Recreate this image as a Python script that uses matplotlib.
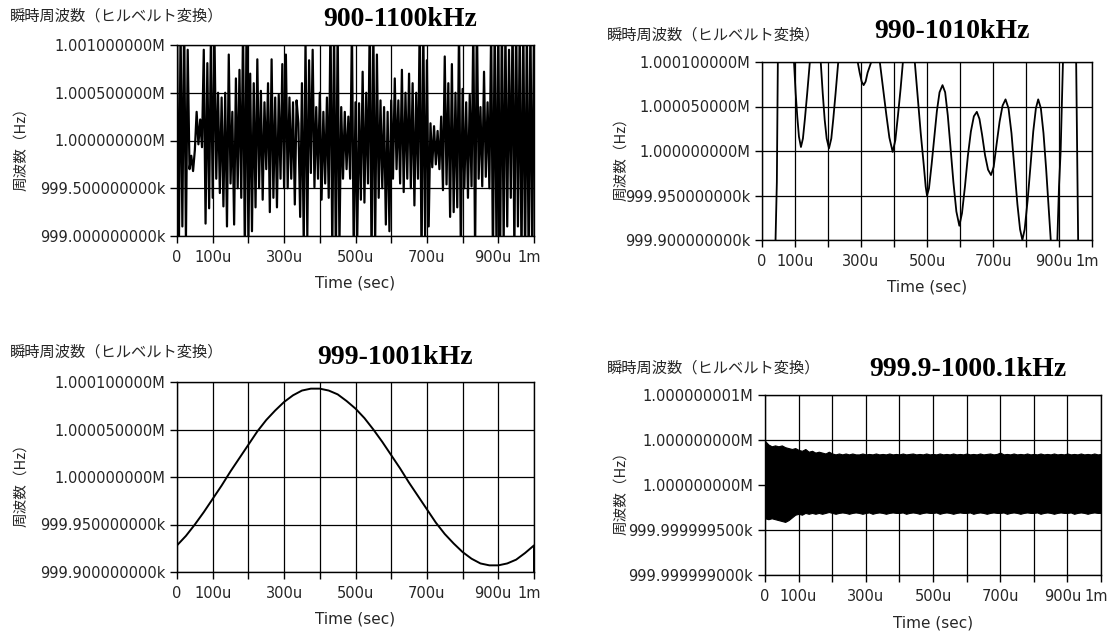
import numpy as np
import matplotlib
matplotlib.use("Agg")
import matplotlib.pyplot as plt
import matplotlib.transforms as mtransforms

plt.rcParams['font.family'] = ['DejaVu Sans', 'Noto Sans CJK JP']

# ----- DATA -----
# time in microseconds, frequency given as offset from 1 MHz
# panel 1 (900-1100kHz), offset in Hz, one sample every 5 us
t1 = np.arange(0, 1001, 5)
f1 = [
    1300, -1300, 1200, -900, 1300,
    -1050, 950, -300, -160, -320,
    -100, 300, -40, 220, -70,
    950, -870, 810, -710, 1100,
    -600, 1100, -400, 500, -550,
    450, -690, 500, -900, 900,
    -450, 300, -880, 650, -500,
    740, -600, 1200, -1200, 1300,
    -1100, 700, -950, 600, -700,
    850, -500, 520, -620, 400,
    -300, 600, -750, 850, -600,
    450, -700, 480, -400, 800,
    -500, 900, -500, 450, -400,
    400, -670, 420, 180, -800,
    600, -1100, 1050, -1000, 840,
    -340, 950, -490, 350, -400,
    500, -620, 300, -450, 450,
    -600, 1300, -1200, 1200, -1300,
    1200, -1100, 350, -400, 300,
    -300, 250, -400, 1200, -1200,
    400, -1000, 390, -620, 720,
    -650, 500, -450, 1300, -1300,
    1200, -1100, 900, -600, 420,
    -500, 350, -880, 300, -950,
    420, -400, 650, -300, 420,
    -450, 740, -540, 500, -400,
    700, -500, 600, -680, 500,
    -400, 1300, -1300, 1200, -1000,
    840, -900, 180, -280, 150,
    -250, 100, -300, 250, -520,
    880, -460, 600, -800, 800,
    -750, 500, -700, 1200, -1200,
    540, -500, 400, -600, 480,
    -480, 1200, -1200, 1300, -400,
    350, -480, 720, -380, 400,
    -500, 1200, -1300, 1300, -1200,
    1200, -1300, 1300, -1100, 1200,
    -900, 950, -600, 1300, -1200,
    1300, -900, 1200, -1300, 1300,
    -1300, 1200, -1300, 1300, -1300,
    1300,
]

# panel 2 (990-1010kHz), offset in Hz
t2 = [0, 20, 41, 45, 48, 72, 97, 102, 107, 112, 118, 124, 130, 137, 145, 161,
      178, 184, 190, 196, 203, 210, 216, 223, 231, 260, 290, 296, 302, 308, 314,
      320, 331, 344, 357, 367, 377, 386, 396, 404, 412, 420, 427, 445, 463, 472,
      481, 490, 496, 500, 506, 514, 522, 530, 538, 547, 555, 563, 571, 580, 589,
      598, 606, 615, 624, 633, 642, 651, 659, 667, 676, 685, 694, 702, 711, 720,
      729, 738, 747, 756, 765, 774, 782, 789, 796, 805, 814, 822, 830, 837, 845,
      853, 861, 868, 875, 885, 895, 900, 905, 912, 932, 952, 955, 958, 980, 1000]
f2 = [-200, -250, -100, -35, 100, 220, 100, 65, 38, 16, 4.5, 14, 36, 65, 100, 150,
      100, 65, 35, 14, 3, 14, 36, 65, 100, 200, 100, 88, 78, 74, 78,
      88, 100, 120, 100, 70, 40, 15, -1, 12, 40, 70, 100, 140, 100, 60,
      20, -15, -40, -50, -42, -15, 15, 45, 66, 74, 66, 40, 5, -35, -68,
      -84, -70, -40, -5, 22, 39, 44, 36, 18, -5, -21, -27, -18, 8, 33,
      51, 58, 48, 20, -20, -60, -88, -100, -88, -55, -15, 22, 48, 58, 48,
      20, -20, -60, -100, -140, -100, -40, 0, 100, 200, 100, 0, -100, -220, -250]

# panel 3 (999-1001kHz), offset in Hz
t3 = [0, 25, 50, 75, 100, 125, 150, 175, 200, 225, 250, 275, 300, 325, 350, 375,
      400, 425, 450, 475, 500, 525, 550, 575, 600, 625, 650, 675, 700, 725, 750,
      775, 800, 825, 850, 875, 900, 925, 950, 975, 1000, 1000]
f3 = [-72, -62, -50, -37, -23, -9, 6, 20, 34, 48, 60, 70, 79, 86, 91, 93,
      93, 91, 87, 80, 72, 62, 50, 37, 23, 9, -6, -20, -34, -48, -60,
      -70, -79, -86, -91, -93, -93, -91, -87, -80, -72, -100]

# panel 4 (999.9-1000.1kHz), envelope of the dense band, offset in mHz
t4 = np.arange(0, 1001, 10)
f4_upper = [
    0.49, 0.45, 0.43, 0.44, 0.43, 0.44, 0.42, 0.41, 0.40, 0.41,
    0.39, 0.38, 0.40, 0.37, 0.38, 0.36, 0.37, 0.36, 0.35, 0.37,
    0.35, 0.34, 0.35, 0.34, 0.35, 0.34, 0.35, 0.34, 0.34, 0.35,
    0.34, 0.345, 0.34, 0.35, 0.34, 0.345, 0.34, 0.35, 0.34, 0.345,
    0.34, 0.35, 0.34, 0.345, 0.35, 0.34, 0.345, 0.34, 0.35, 0.34,
    0.345, 0.34, 0.35, 0.34, 0.345, 0.34, 0.35, 0.34, 0.345, 0.34,
    0.35, 0.34, 0.345, 0.34, 0.35, 0.34, 0.345, 0.35, 0.34, 0.345,
    0.36, 0.34, 0.345, 0.34, 0.35, 0.34, 0.345, 0.34, 0.35, 0.34,
    0.345, 0.34, 0.35, 0.34, 0.345, 0.34, 0.35, 0.34, 0.345, 0.34,
    0.35, 0.34, 0.345, 0.34, 0.35, 0.34, 0.345, 0.34, 0.35, 0.34,
    0.345,
]
f4_lower = [
    -0.37, -0.38, -0.37, -0.38, -0.39, -0.40, -0.41, -0.39, -0.36, -0.33,
    -0.32, -0.33, -0.31, -0.32, -0.31, -0.32, -0.31, -0.32, -0.31, -0.30,
    -0.31, -0.32, -0.31, -0.305, -0.31, -0.32, -0.31, -0.305, -0.31, -0.32,
    -0.31, -0.305, -0.32, -0.31, -0.305, -0.31, -0.32, -0.31, -0.305, -0.31,
    -0.31, -0.305, -0.32, -0.31, -0.305, -0.31, -0.32, -0.31, -0.305, -0.31,
    -0.31, -0.305, -0.32, -0.31, -0.305, -0.31, -0.32, -0.31, -0.305, -0.31,
    -0.31, -0.305, -0.32, -0.31, -0.305, -0.31, -0.32, -0.31, -0.305, -0.31,
    -0.31, -0.305, -0.32, -0.31, -0.305, -0.31, -0.32, -0.31, -0.305, -0.31,
    -0.31, -0.305, -0.32, -0.31, -0.305, -0.31, -0.32, -0.31, -0.305, -0.31,
    -0.31, -0.305, -0.32, -0.31, -0.305, -0.31, -0.32, -0.31, -0.305, -0.31,
    -0.31,
]

# ticks and labels
x_ticks = [0, 100, 200, 300, 400, 500, 600, 700, 800, 900, 1000]
x_labels = ['0', '100u', '', '300u', '', '500u', '', '700u', '', '900u', '1m']
y_ticks_wide = [-1000, -500, 0, 500, 1000]
y_labels_wide = ['999.000000000k', '999.500000000k', '1.000000000M',
                 '1.000500000M', '1.001000000M']
y_ticks_mid = [-100, -50, 0, 50, 100]
y_labels_mid = ['999.900000000k', '999.950000000k', '1.000000000M',
                '1.000050000M', '1.000100000M']
y_ticks_fine = [-1, -0.5, 0, 0.5, 1]
y_labels_fine = ['999.999999000k', '999.999999500k', '1.000000000M',
                 '1.000000000M', '1.000000001M']
titles = ['900-1100kHz', '990-1010kHz', '999-1001kHz', '999.9-1000.1kHz']

# ----- FIGURE -----
W, H = 1115, 632
fig = plt.figure(figsize=(W / 100, H / 100), dpi=100, facecolor='white')


def box(left, top, right, bottom):
    return [left / W, 1 - bottom / H, (right - left) / W, (bottom - top) / H]


def style(ax, yticks, ylabels):
    ax.set_xlim(0, 1000)
    ax.set_ylim(yticks[0], yticks[-1])
    ax.set_xticks(x_ticks)
    ax.set_xticklabels(x_labels)
    ax.set_yticks(yticks)
    ax.set_yticklabels(ylabels)
    ax.grid(True, color='black', linewidth=0.9)
    ax.tick_params(direction='out', length=5, width=1, labelsize=10.5,
                   color='black', labelcolor='#262626')
    ax.tick_params(axis='x', pad=5)
    for s in ax.spines.values():
        s.set_color('black')
        s.set_linewidth(1.0)
    ax.set_xlabel('Time (sec)', fontsize=11, color='#262626', labelpad=8)
    # nudge the crowded "900u 1m" labels apart a bit
    shift = mtransforms.ScaledTranslation(-0.05, 0, fig.dpi_scale_trans)
    for lab in ax.get_xticklabels()[-2:]:
        lab.set_transform(lab.get_transform() + shift)


def headers(x0, y_head, x_title, y_title, title, x_ylab, y_ylab):
    fig.text(x0 / W, 1 - y_head / H, '瞬時周波数（ヒルベルト変換）', fontsize=11,
             color='#262626', ha='left', va='center',
             family=['Noto Sans CJK JP', 'DejaVu Sans'])
    fig.text(x_title / W, 1 - y_title / H, title, fontsize=20, weight='bold',
             family='Liberation Serif', ha='center', va='center')
    fig.text(x_ylab / W, 1 - y_ylab / H, '周波数（Hz）', fontsize=10.5, rotation=90,
             color='#262626', ha='center', va='center',
             family=['Noto Sans CJK JP', 'DejaVu Sans'])


# panel 1
ax1 = fig.add_axes(box(177, 45, 534, 236))
ax1.plot(t1, f1, color='black', linewidth=1.6)
style(ax1, y_ticks_wide, y_labels_wide)
headers(10, 16, 400, 20, titles[0], 21, 146)

# panel 2
ax2 = fig.add_axes(box(762, 62, 1092, 240))
ax2.plot(t2, f2, color='black', linewidth=1.3)
style(ax2, y_ticks_mid, y_labels_mid)
headers(607, 35, 952, 32, titles[1], 621, 156)

# panel 3
ax3 = fig.add_axes(box(177, 382, 534, 572))
ax3.plot(t3, f3, color='black', linewidth=1.4)
style(ax3, y_ticks_mid, y_labels_mid)
headers(10, 352, 395, 357, titles[2], 21, 482)

# panel 4
ax4 = fig.add_axes(box(765, 395, 1101, 575))
ax4.fill_between(t4, f4_lower, f4_upper, color='black', linewidth=0.8)
style(ax4, y_ticks_fine, y_labels_fine)
headers(607, 368, 968, 369, titles[3], 621, 490)

fig.savefig('out.png', dpi=100, facecolor='white')
